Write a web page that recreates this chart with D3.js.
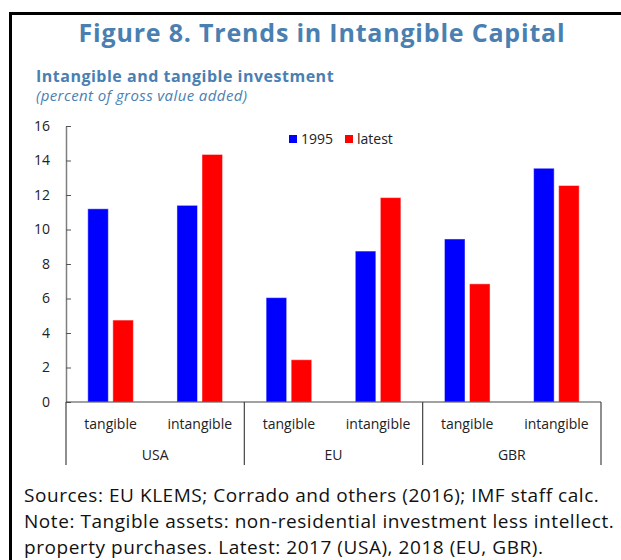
<!DOCTYPE html>
<html>
<head>
<meta charset="utf-8">
<script src="https://cdn.jsdelivr.net/npm/d3@7"></script>
<style>
  body { margin: 0; background: #fff; }
  svg { display: block; font-family: "Open Sans", "Noto Sans", sans-serif; }
</style>
</head>
<body>
<div id="chart"></div>
<script>
// data
var countries = ["USA", "EU", "GBR"];
var assetTypes = ["tangible", "intangible"];
var seriesNames = ["1995", "latest"];
var values1995 = [11.2, 11.4, 6.05, 8.75, 9.45, 13.55];
var valuesLatest = [4.75, 14.35, 2.45, 11.85, 6.85, 12.55];
var yTicks = [0, 2, 4, 6, 8, 10, 12, 14, 16];
var colors = ["#0000ff", "#ff0000"];

var width = 621, height = 560;
var titleColor = "#4a7fb2";

var svg = d3.select("#chart")
    .append("svg")
    .attr("width", width)
    .attr("height", height);

// frame around the figure
svg.append("rect")
    .attr("x", 10.5).attr("y", 13.5)
    .attr("width", 700).attr("height", 700)
    .attr("fill", "none")
    .attr("stroke", "#000")
    .attr("stroke-width", 3);

svg.append("text")
    .attr("x", 322).attr("y", 42)
    .attr("text-anchor", "middle")
    .attr("font-size", 25).attr("font-weight", "bold")
    .attr("letter-spacing", 0.8)
    .attr("fill", titleColor)
    .text("Figure 8. Trends in Intangible Capital");

svg.append("text")
    .attr("x", 36).attr("y", 82)
    .attr("font-size", 16).attr("font-weight", "bold")
    .attr("letter-spacing", 0.5)
    .attr("fill", titleColor)
    .text("Intangible and tangible investment");

svg.append("text")
    .attr("x", 36).attr("y", 101)
    .attr("font-size", 15).attr("font-style", "italic")
    .attr("letter-spacing", 0.4)
    .attr("fill", titleColor)
    .text("(percent of gross value added)");

// build rows from the arrays
var rows = [];
countries.forEach(function(c, i) {
    assetTypes.forEach(function(a, j) {
        var k = i * assetTypes.length + j;
        rows.push({key: c + "-" + a, country: c, asset: a, vals: [values1995[k], valuesLatest[k]]});
    });
});

var plotLeft = 66, plotRight = 601, plotTop = 126, plotBottom = 402;

var x0 = d3.scaleBand().domain(rows.map(d => d.key)).range([plotLeft, plotRight]).padding(0);
var xC = d3.scaleBand().domain(countries).range([plotLeft, plotRight]).padding(0);
var x1 = d3.scaleBand().domain(seriesNames).range([0, x0.bandwidth()])
    .paddingInner(0.18).paddingOuter(0.87);
var y = d3.scaleLinear().domain([0, 16]).range([plotBottom, plotTop]);

// y axis
var yAxis = svg.append("g")
    .attr("transform", "translate(" + plotLeft + ",0)")
    .call(d3.axisRight(y).tickValues(yTicks).tickSize(5).tickSizeOuter(0).tickFormat(d3.format("d")));
yAxis.select(".domain").attr("stroke", "#7f7f7f").attr("stroke-width", 1.5);
yAxis.selectAll(".tick line").attr("stroke", "#555");
yAxis.selectAll(".tick text")
    .attr("x", -16).attr("text-anchor", "end")
    .attr("font-size", 14).attr("fill", "#222")
    .attr("font-family", "'Open Sans', sans-serif");

// bars
var group = svg.append("g").selectAll("g")
    .data(rows)
    .join("g")
    .attr("transform", d => "translate(" + x0(d.key) + ",0)");

group.selectAll("rect")
    .data(d => d.vals.map((v, i) => ({name: seriesNames[i], value: v, i: i})))
    .join("rect")
    .attr("x", d => x1(d.name))
    .attr("y", d => y(d.value))
    .attr("width", x1.bandwidth())
    .attr("height", d => y(0) - y(d.value))
    .attr("fill", d => colors[d.i])
    .attr("stroke", "#fff")
    .attr("stroke-opacity", 0.45)
    .attr("stroke-width", 1);

// x axis line
svg.append("line")
    .attr("x1", plotLeft).attr("x2", plotRight)
    .attr("y1", plotBottom).attr("y2", plotBottom)
    .attr("stroke", "#444").attr("stroke-width", 1.2);

// country separators
var seps = [plotLeft].concat(countries.map(c => xC(c) + xC.bandwidth()));
svg.append("g").selectAll("line")
    .data(seps)
    .join("line")
    .attr("x1", d => d).attr("x2", d => d)
    .attr("y1", plotBottom).attr("y2", 465)
    .attr("stroke", "#444").attr("stroke-width", 1.2);

svg.append("g").selectAll("text")
    .data(rows)
    .join("text")
    .attr("x", d => x0(d.key) + x0.bandwidth() / 2)
    .attr("y", 429)
    .attr("text-anchor", "middle")
    .attr("font-size", 14).attr("fill", "#222")
    .text(d => d.asset);

svg.append("g").selectAll("text")
    .data(countries)
    .join("text")
    .attr("x", d => xC(d) + xC.bandwidth() / 2)
    .attr("y", 460)
    .attr("text-anchor", "middle")
    .attr("font-size", 14).attr("fill", "#222")
    .text(d => d);

// legend
var legend = svg.append("g").selectAll("g")
    .data(seriesNames)
    .join("g")
    .attr("transform", (d, i) => "translate(" + [289, 345][i] + ",135)");
legend.append("rect")
    .attr("width", 8).attr("height", 8)
    .attr("fill", (d, i) => colors[i]);
legend.append("text")
    .attr("x", 12).attr("y", 9)
    .attr("font-size", 14).attr("fill", "#222")
    .text(d => d);

// notes
var notes = [
    "Sources: EU KLEMS; Corrado and others (2016); IMF staff calc.",
    "Note: Tangible assets: non-residential investment less intellect.",
    "property purchases. Latest: 2017 (USA), 2018 (EU, GBR)."
];
svg.append("g").selectAll("text")
    .data(notes)
    .join("text")
    .attr("x", 24)
    .attr("y", (d, i) => 502 + i * 26)
    .attr("font-size", 19).attr("fill", "#111")
    .attr("letter-spacing", 0.55)
    .text(d => d);
</script>
</body>
</html>
